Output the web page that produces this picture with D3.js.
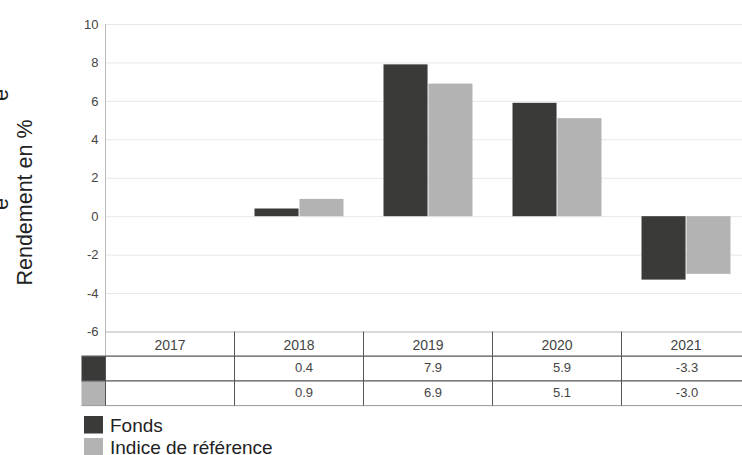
<!DOCTYPE html>
<html>
<head>
<meta charset="utf-8">
<script src="https://cdn.jsdelivr.net/npm/d3@7"></script>
<style>
	body { margin: 0; background: #fff; }
	svg { display: block; font-family: "Liberation Sans", Arial, sans-serif; }
</style>
</head>
<body>
<svg id="chart"></svg>
<script>
// data
const years = ['2017', '2018', '2019', '2020', '2021'];
const fonds = [null, 0.4, 7.9, 5.9, -3.3];
const indice = [null, 0.9, 6.9, 5.1, -3.0];
const yTicks = [-6, -4, -2, 0, 2, 4, 6, 8, 10];
const seriesNames = ['Fonds', 'Indice de référence'];
const seriesColors = ['#3a3b39', '#b3b3b3'];

let w = 742, h = 455;
let leftEdge = 105.5, rightEdge = 750.5;
let plotTop = 24, plotBottom = 331.5;
let rowH = 24.7;

let chart, xScale, xSub, yScale;

function makeChart() {
	chart = d3.select('#chart')
		.attr('width', w)
		.attr('height', h);

	xScale = d3.scaleBand()
		.domain(years)
		.range([leftEdge, rightEdge]);

	xSub = d3.scaleBand()
		.domain(seriesNames)
		.range([20, 109])
		.paddingInner(0.02);

	yScale = d3.scaleLinear()
		.domain([d3.min(yTicks), d3.max(yTicks)])
		.range([plotBottom, plotTop]);

	// gridlines (the -6 one is the table top)
	chart.append('g')
		.attr('class', 'y-grid')
		.attr('transform', `translate(${leftEdge},0)`)
		.call(d3.axisLeft(yScale).tickValues(yTicks).tickSize(-(w - leftEdge)).tickFormat(''))
		.call(g => g.select('.domain').remove())
		.call(g => g.selectAll('line')
			.attr('stroke', (d) => d == -6 ? '#b5b5b5' : '#e8e8e8'));

	// y axis labels, plain hyphen for negatives like the original
	let yAxisGroup = chart.append('g')
		.attr('transform', `translate(${leftEdge},0)`)
		.call(d3.axisLeft(yScale).tickValues(yTicks).tickSize(0).tickPadding(7)
			.tickFormat((d) => String(d)));
	yAxisGroup.select('.domain').remove();
	yAxisGroup.selectAll('text')
		.attr('font-size', 13)
		.attr('fill', '#444')
		.attr('font-family', '"Liberation Sans", Arial, sans-serif');

	chart.append('line')
		.attr('x1', leftEdge).attr('x2', leftEdge)
		.attr('y1', plotTop).attr('y2', plotBottom + rowH)
		.attr('stroke', '#bbb');

	// bars
	let barData = [];
	years.forEach((y, i) => {
		if (fonds[i] != null) barData.push({ year: y, s: 0, v: fonds[i] });
		if (indice[i] != null) barData.push({ year: y, s: 1, v: indice[i] });
	});

	chart.selectAll('rect.bar')
		.data(barData)
		.enter()
		.append('rect')
		.attr('class', 'bar')
		.attr('x', (d) => xScale(d.year) + xSub(seriesNames[d.s]))
		.attr('width', xSub.bandwidth())
		.attr('y', (d) => yScale(Math.max(0, d.v)))
		.attr('height', (d) => Math.abs(yScale(d.v) - yScale(0)))
		.attr('fill', (d) => seriesColors[d.s]);

	// axis title
	chart.append('text')
		.attr('transform', 'rotate(-90)')
		.attr('x', -202.5)
		.attr('y', 32)
		.attr('text-anchor', 'middle')
		.attr('font-size', 21.5)
		.attr('fill', '#222')
		.text('Rendement en %');

	// clipped leftovers of a line outside the frame
	[95, 204].forEach((c) => {
		chart.append('text')
			.attr('transform', 'rotate(-90)')
			.attr('x', -c)
			.attr('y', 8)
			.attr('text-anchor', 'middle')
			.attr('font-size', 21.5)
			.attr('fill', '#222')
			.text('e');
	});
}

function makeTable() {
	let rows = [fonds, indice];
	let tTop = plotBottom;

	// header years
	chart.selectAll('text.year')
		.data(years)
		.enter()
		.append('text')
		.attr('class', 'year')
		.attr('x', (d) => xScale(d) + xScale.bandwidth() / 2)
		.attr('y', tTop + 18.5)
		.attr('text-anchor', 'middle')
		.attr('font-size', 14)
		.attr('fill', '#444')
		.text((d) => d);

	// swatches + values
	rows.forEach((r, i) => {
		chart.append('rect')
			.attr('x', 81.5)
			.attr('y', tTop + rowH * (i + 1))
			.attr('width', leftEdge - 81.5)
			.attr('height', rowH)
			.attr('fill', seriesColors[i]);

		chart.selectAll('text.val' + i)
			.data(r)
			.enter()
			.append('text')
			.attr('class', 'val' + i)
			.attr('x', (d, j) => xScale(years[j]) + xScale.bandwidth() / 2 + (d < 0 ? 1 : 5))
			.attr('y', tTop + rowH * (i + 1) + 16)
			.attr('text-anchor', 'middle')
			.attr('font-size', 13)
			.attr('fill', '#444')
			.text((d) => d == null ? '' : d.toFixed(1));
	});

	// horizontal rules
	[1, 2].forEach((k) => {
		chart.append('line')
			.attr('x1', 81.5).attr('x2', w)
			.attr('y1', tTop + rowH * k).attr('y2', tTop + rowH * k)
			.attr('stroke', '#555')
			.attr('stroke-width', 1.3);
	});
	chart.append('line')
		.attr('x1', 81.5).attr('x2', w)
		.attr('y1', tTop + rowH * 3).attr('y2', tTop + rowH * 3)
		.attr('stroke', '#999');

	// vertical rules
	chart.selectAll('line.col')
		.data(years)
		.enter()
		.append('line')
		.attr('class', 'col')
		.attr('x1', (d) => xScale(d))
		.attr('x2', (d) => xScale(d))
		.attr('y1', (d, i) => i == 0 ? tTop + rowH : tTop)
		.attr('y2', tTop + rowH * 3)
		.attr('stroke', '#555');
}

function makeLegend() {
	let legend = chart.append('g')
		.attr('transform', 'translate(84,416)');

	legend.selectAll('rect')
		.data(seriesNames)
		.enter()
		.append('rect')
		.attr('x', 0)
		.attr('y', (d, i) => i * 22)
		.attr('width', 19)
		.attr('height', 17.5)
		.attr('fill', (d, i) => seriesColors[i]);

	legend.selectAll('text')
		.data(seriesNames)
		.enter()
		.append('text')
		.attr('x', 26)
		.attr('y', (d, i) => 16 + i * 21.5)
		.attr('font-size', 19)
		.attr('fill', '#222')
		.text((d) => d);
}

makeChart();
makeTable();
makeLegend();
</script>
</body>
</html>
